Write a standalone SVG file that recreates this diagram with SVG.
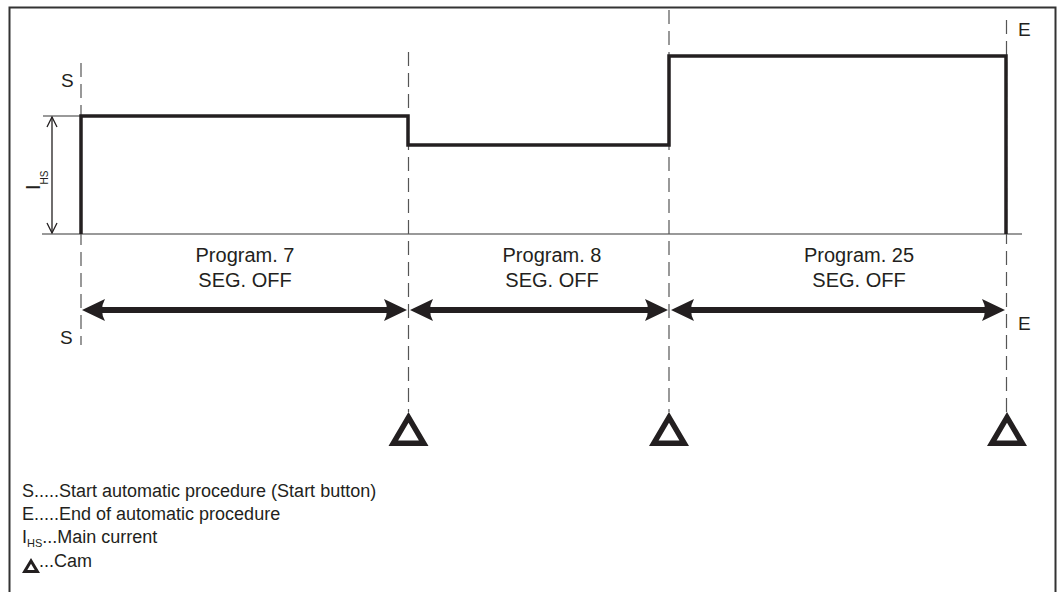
<svg xmlns="http://www.w3.org/2000/svg" width="1059" height="592" viewBox="0 0 1059 592">
<style>
text{font-family:"Liberation Sans",Arial,sans-serif;fill:#231f20}
.lbl{font-size:20px}
.mk{font-size:19px}
.leg{font-size:18px}
.dash{stroke:#555;stroke-width:1.2;stroke-dasharray:14 7;fill:none}
.thin{stroke:#777;stroke-width:1.4;fill:none}
.wave{stroke:#231f20;stroke-width:3.5;fill:none;stroke-linejoin:miter}
.shaft{stroke:#231f20;stroke-width:6;fill:none}
.head{fill:#231f20}
.cam{fill:#231f20;fill-rule:evenodd}
</style>
<defs>
<path id="ah" d="M0,0 L23,-11 Q17,0 23,11 Z"/>
<path id="tri" d="M0,-34 L-20,0 L20,0 Z M0,-23.2 L10.4,-5.5 L-10.4,-5.5 Z"/>
<path id="trismall" d="M0,-15 L-9,0 L9,0 Z M0,-9.2 L3.7,-3 L-3.7,-3 Z"/>
<marker id="dim" viewBox="0 0 12 12" refX="11" refY="6" markerWidth="12" markerHeight="12" markerUnits="userSpaceOnUse" orient="auto-start-reverse">
<path d="M1,1 L11,6 L1,11" fill="none" stroke="#231f20" stroke-width="1.3"/>
</marker>
</defs>
<rect x="9.5" y="7.5" width="1046" height="590" fill="#fff" stroke="#333" stroke-width="2"/>

<g id="axis">
<line class="thin" x1="42" y1="234" x2="1022" y2="234"/>
<line class="thin" x1="43" y1="116" x2="80" y2="116"/>
<line x1="52" y1="117" x2="52" y2="233" stroke="#231f20" stroke-width="1.3" marker-start="url(#dim)" marker-end="url(#dim)"/>
<text class="lbl" transform="translate(40,190) rotate(-90)">I<tspan font-size="10" dy="8">HS</tspan></text>
</g>

<g id="connectors">
<line class="dash" x1="81" y1="63" x2="81" y2="345"/>
<line class="dash" x1="408.5" y1="52" x2="408.5" y2="412"/>
<line class="dash" x1="669" y1="10" x2="669" y2="412"/>
<line class="dash" x1="1006.5" y1="20" x2="1006.5" y2="412"/>
</g>

<g id="waveform">
<path class="wave" d="M81,234 L81,116 L408,116 L408,145 L669,145 L669,56 L1006,56 L1006,234"/>
</g>

<g id="markers">
<text class="mk" x="61" y="87">S</text>
<text class="mk" x="60" y="344">S</text>
<text class="mk" x="1018" y="36">E</text>
<text class="mk" x="1018" y="330">E</text>
</g>

<g id="seg1">
<line class="shaft" x1="95" y1="310" x2="395" y2="310"/>
<use href="#ah" class="head" transform="translate(82,310)"/>
<use href="#ah" class="head" transform="translate(407,310) rotate(180)"/>
<text class="lbl" x="245" y="262" text-anchor="middle">Program. 7</text>
<text class="lbl" x="245" y="287" text-anchor="middle">SEG. OFF</text>
</g>
<g id="seg2">
<line class="shaft" x1="422" y1="310" x2="656" y2="310"/>
<use href="#ah" class="head" transform="translate(410,310)"/>
<use href="#ah" class="head" transform="translate(668,310) rotate(180)"/>
<text class="lbl" x="552" y="262" text-anchor="middle">Program. 8</text>
<text class="lbl" x="552" y="287" text-anchor="middle">SEG. OFF</text>
</g>
<g id="seg3">
<line class="shaft" x1="683" y1="310" x2="993" y2="310"/>
<use href="#ah" class="head" transform="translate(671,310)"/>
<use href="#ah" class="head" transform="translate(1005,310) rotate(180)"/>
<text class="lbl" x="859" y="262" text-anchor="middle">Program. 25</text>
<text class="lbl" x="859" y="287" text-anchor="middle">SEG. OFF</text>
</g>

<g id="cams">
<use href="#tri" class="cam" transform="translate(408.5,446)"/>
<use href="#tri" class="cam" transform="translate(669,446)"/>
<use href="#tri" class="cam" transform="translate(1007,446)"/>
</g>

<g id="legend">
<text class="leg" x="22" y="497">S.....Start automatic procedure (Start button)</text>
<text class="leg" x="22" y="520">E.....End of automatic procedure</text>
<text class="leg" x="22" y="543">I<tspan font-size="11" dy="4">HS</tspan><tspan dy="-4">...Main current</tspan></text>
<use href="#trismall" class="cam" transform="translate(31,573)"/>
<text class="leg" x="39" y="567">...Cam</text>
</g>
</svg>
